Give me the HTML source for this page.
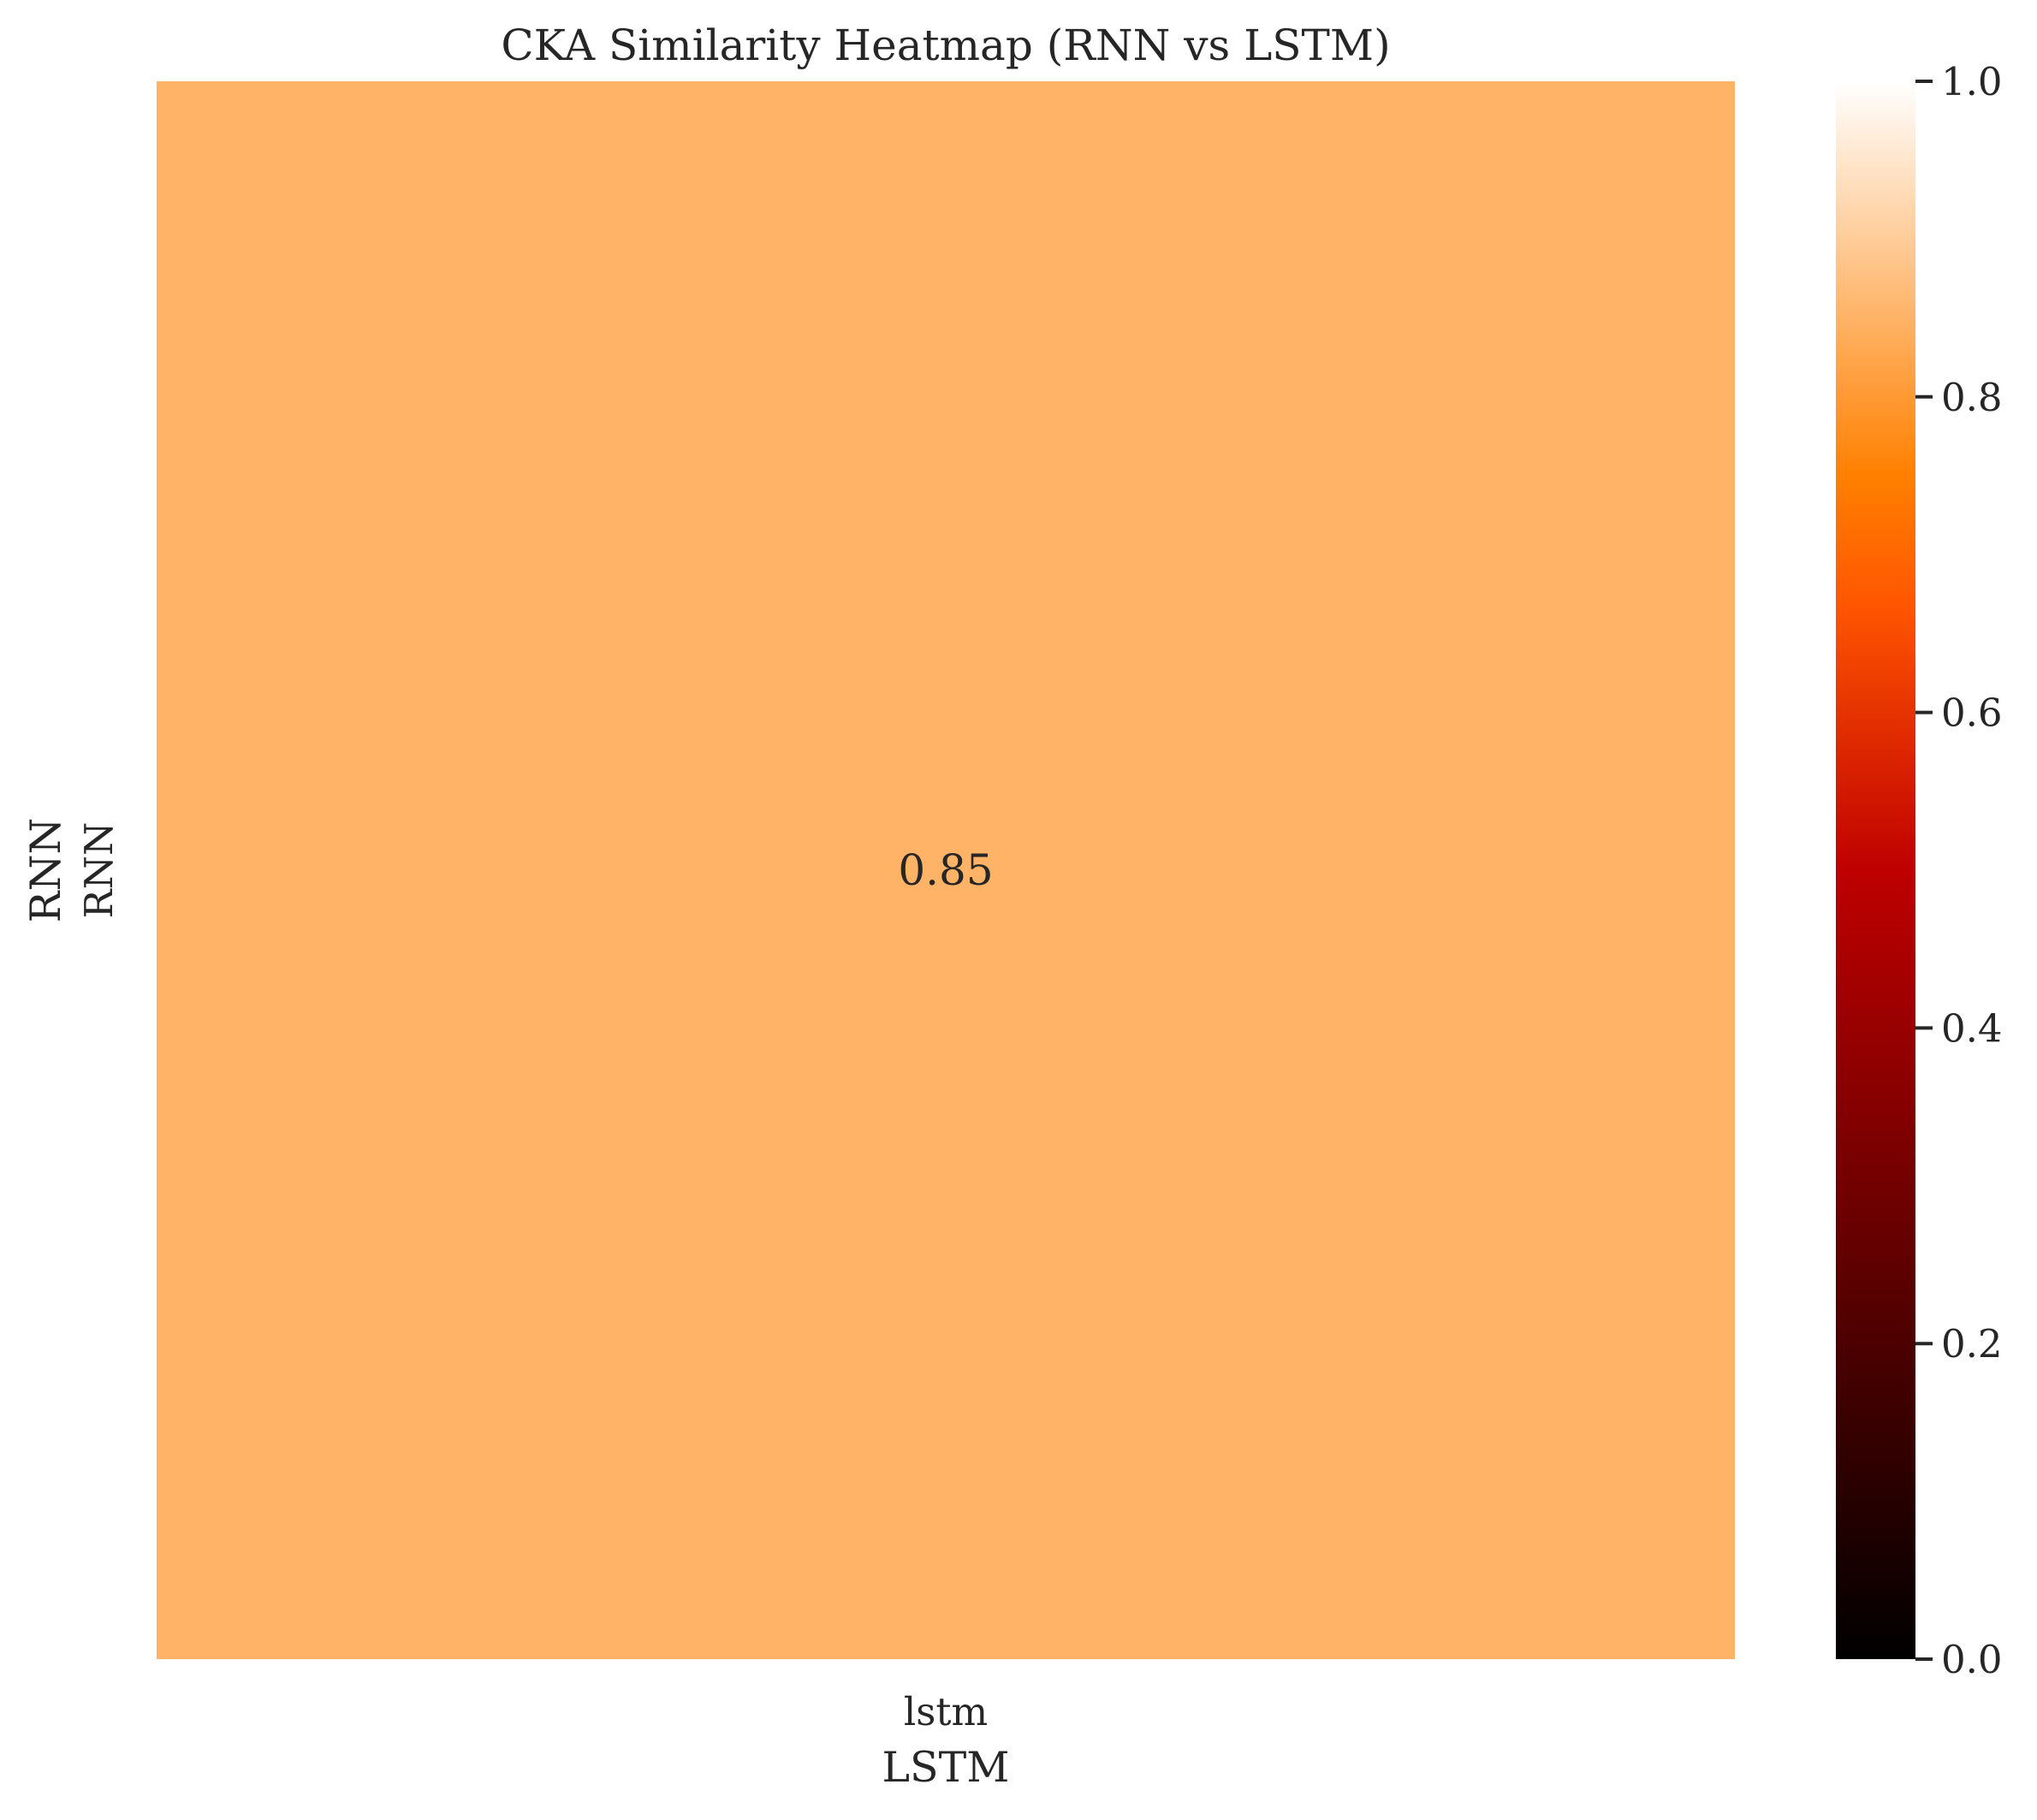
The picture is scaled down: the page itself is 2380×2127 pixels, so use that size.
<!DOCTYPE html>
<html><head><meta charset="utf-8"><style>
html,body{margin:0;padding:0;background:#fff;}
svg text{font-family:"DejaVu Serif","Liberation Serif",serif;fill:#262626;}
</style></head><body>
<svg id="chart" width="2380" height="2122" xmlns="http://www.w3.org/2000/svg">
<defs>
<linearGradient id="gh" x1="0" y1="1" x2="0" y2="0">
<stop offset="0" stop-color="#000000"/>
<stop offset="0.333" stop-color="#7f0000"/>
<stop offset="0.5" stop-color="#bf0000"/>
<stop offset="0.667" stop-color="#ff5500"/>
<stop offset="0.75" stop-color="#ff8000"/>
<stop offset="1" stop-color="#ffffff"/>
</linearGradient>
</defs>
<text x="1105" y="70" font-size="50" text-anchor="middle">CKA Similarity Heatmap (RNN vs LSTM)</text>
<g id="cells"></g>
<rect x="2145" y="95" width="93" height="1844" fill="url(#gh)"/>
<g id="cbticks"></g>
<text x="1105" y="2016" font-size="45" text-anchor="middle">lstm</text>
<text x="1105" y="2082" font-size="49" text-anchor="middle">LSTM</text>
<text transform="translate(131,1017) rotate(-90)" font-size="45" text-anchor="middle">RNN</text>
<text transform="translate(70,1017) rotate(-90)" font-size="49" text-anchor="middle">RNN</text>
</svg>
<script>
const rowLabels = ["RNN"];
const colLabels = ["lstm"];
const values = [[0.85]];
const cbTicks = [0.0, 0.2, 0.4, 0.6, 0.8, 1.0];
const X0=183, X1=2027, Y0=95, Y1=1939;
function color(v){
  const r=Math.min(1,Math.max(0,1.5*v)), g=Math.min(1,Math.max(0,2*v-1)), b=Math.min(1,Math.max(0,4*v-3));
  return `rgb(${Math.round(r*255)},${Math.round(g*255)},${Math.round(b*255)})`;
}
const ns="http://www.w3.org/2000/svg";
const cells=document.getElementById('cells');
const cw=(X1-X0)/colLabels.length, ch=(Y1-Y0)/rowLabels.length;
values.forEach((row,i)=>row.forEach((v,j)=>{
  const r=document.createElementNS(ns,'rect');
  r.setAttribute('x',X0+j*cw);r.setAttribute('y',Y0+i*ch);
  r.setAttribute('width',cw);r.setAttribute('height',ch);
  r.setAttribute('fill',color(v));
  
  
  cells.appendChild(r);
  const t=document.createElementNS(ns,'text');
  t.setAttribute('x',X0+(j+0.5)*cw);t.setAttribute('y',Y0+(i+0.5)*ch+17);
  t.setAttribute('font-size','50');t.setAttribute('text-anchor','middle');
  t.textContent=v.toFixed(2);
  
  
  cells.appendChild(t);
}));
const cb=document.getElementById('cbticks');
cbTicks.forEach(v=>{
  const y=Y1-(Y1-Y0)*v;
  const l=document.createElementNS(ns,'line');
  l.setAttribute('x1',2238);l.setAttribute('x2',2258);l.setAttribute('y1',y);l.setAttribute('y2',y);
  l.setAttribute('stroke','#262626');l.setAttribute('stroke-width','4');
  
  
  cb.appendChild(l);
  const t=document.createElementNS(ns,'text');
  t.setAttribute('x',2268);t.setAttribute('y',y+16);t.setAttribute('font-size','45');
  t.textContent=v.toFixed(1);
  
  
  cb.appendChild(t);
});
</script>
</body></html>
